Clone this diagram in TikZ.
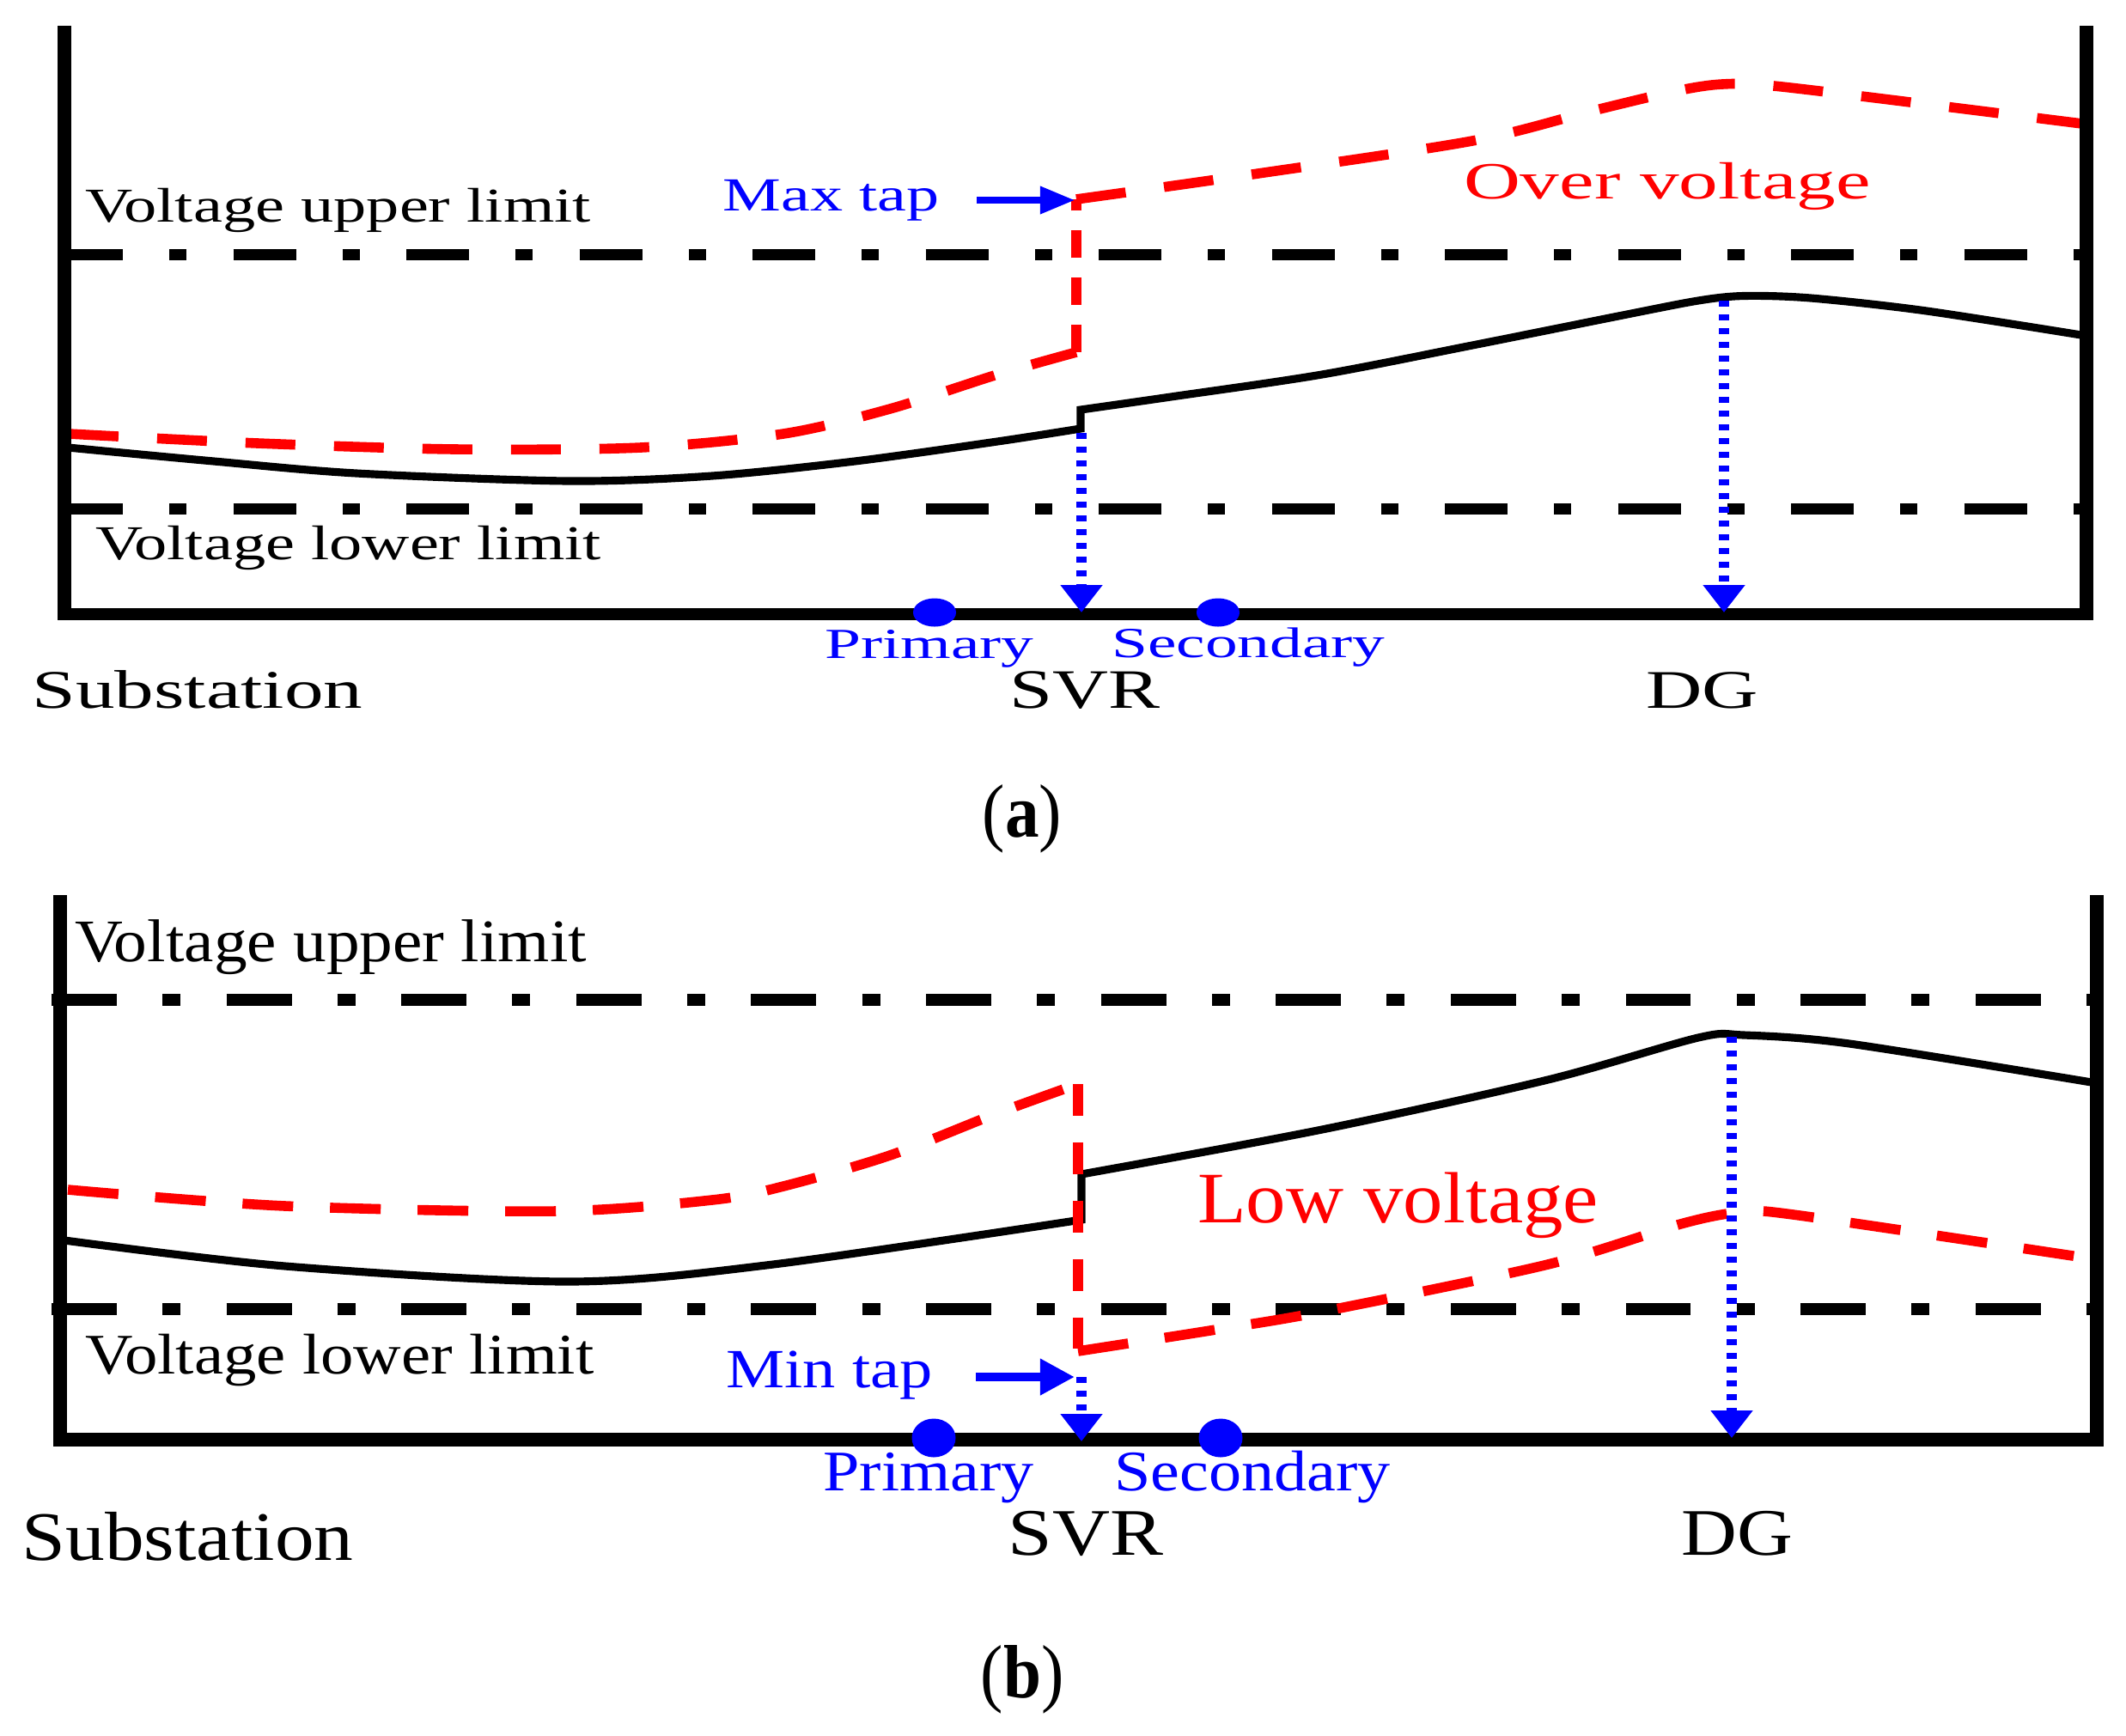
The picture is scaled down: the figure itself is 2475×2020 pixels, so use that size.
\documentclass[tikz,border=0pt]{standalone}
\usepackage{fontspec}
\setmainfont{Liberation Serif}
\usepackage{graphicx}
\usetikzlibrary{arrows.meta}
\newcommand{\lbl}[3]{\fontsize{#1}{#1}\selectfont\scalebox{#2}[1]{#3}}
\begin{document}
\begin{tikzpicture}[x=0.01cm,y=-0.01cm,
  axisv/.style={line width=4.8pt},
  axisb/.style={line width=3.8pt},
  limA/.style={line width=3.7pt, dash pattern=on 20.8pt off 15.4pt on 5.7pt off 15.4pt},
  limB/.style={line width=4.2pt, dash pattern=on 21.6pt off 15.1pt on 6pt off 15.2pt},
  vcurve/.style={line width=2.6pt, line join=miter},
  rcurveA/.style={red, line width=3.3pt, dash pattern=on 16.5pt off 12.8pt},
  rcurveB/.style={red, line width=3.3pt, dash pattern=on 16.8pt off 12.2pt},
  rvertA/.style={red, line width=3.3pt, dash pattern=on 9.1pt off 6.5pt},
  rvertB/.style={red, line width=3.3pt, dash pattern=on 10.5pt off 8.8pt},
  dotarrow/.style={blue, line width=3.2pt, dash pattern=on 1.9pt off 2.65pt,
    -{Triangle[length=9.1pt,width=13.4pt]}},
  taparrowA/.style={blue, line width=2pt, -{Triangle[length=11.4pt,width=8.8pt]}},
  taparrowB/.style={blue, line width=2.8pt, -{Triangle[length=11.4pt,width=11.4pt]}},
  busdot/.style={fill=blue},
  txt/.style={inner sep=0pt, anchor=base},
]
\fill[white] (0,0) rectangle (2475,2020);
\useasboundingbox (0,0) rectangle (2475,2020);

% ================= Panel (a) =================
\draw[limA] (70,296.5) -- (2429,296.5);
\draw[limA] (70,592) -- (2429,592);

% black voltage profile
\draw[vcurve] plot[smooth] coordinates {(79,521) (249,537) (415,551) (663,560) (829,554) (995,537) (1161,514) (1258,499)}
  -- (1258,477) -- plot[smooth] coordinates {(1258,477) (1363,462) (1539,436) (1714,402) (1889,367) (1977,350) (2030,344.5) (2108,347) (2240,361.6) (2429,391)};

% red dashed profile
\draw[rcurveA] plot[smooth] coordinates {(80,505) (300,516) (530,523) (746,521) (912,505) (1036,476) (1161,436) (1253,410)};
\draw[rvertA] (1253,410) -- (1253,232);
\draw[rcurveA] plot[smooth] coordinates {(1253,232) (1451,204) (1714,164) (1854,129) (1951,106) (2005,98) (2065,100) (2240,121) (2424,144)};

% axes
\draw[axisv] (75,30) -- (75,722);
\draw[axisv] (2429,30) -- (2429,722);
\draw[axisb] (68,715) -- (2437,715);

% blue arrows
\coordinate (svrAtop) at (1259,504);
\coordinate (svrAbot) at (1259,713);
\coordinate (dgAtop) at (2007,350);
\coordinate (dgAbot) at (2007,713);
\draw[dotarrow] (svrAtop) -- (svrAbot);
\draw[dotarrow] (dgAtop) -- (dgAbot);
\coordinate (maxS) at (1137,233);
\coordinate (maxE) at (1251,233);
\draw[taparrowA] (maxS) -- (maxE);

\fill[busdot] (1088,713) ellipse [x radius=25, y radius=16.5];
\fill[busdot] (1418,713) ellipse [x radius=25, y radius=16.5];

% texts (a)
\node[txt] (upA) at (393.5,258) {\lbl{16.1pt}{1.35}{Voltage upper limit}};
\node[txt] (lowA) at (405.5,651.5) {\lbl{16.1pt}{1.35}{Voltage lower limit}};
\node[txt, text=blue] (maxtap) at (967.5,245.7) {\lbl{15.7pt}{1.38}{Max tap}};
\node[txt, text=red] (over) at (1941,231) {\lbl{17.3pt}{1.5}{Over voltage}};
\node[txt, text=blue] (primA) at (1082,766) {\lbl{14.2pt}{1.51}{Primary}};
\node[txt, text=blue] (secA) at (1453.5,765.7) {\lbl{14.2pt}{1.51}{Secondary}};
\node[txt] (subA) at (230,824) {\lbl{18pt}{1.44}{Substation}};
\node[txt] (svrA) at (1263,824) {\lbl{18.4pt}{1.39}{SVR}};
\node[txt] (dgA) at (1981.5,824) {\lbl{18pt}{1.43}{DG}};
\node[txt] (capA) at (1190,974.5) {\lbl{25pt}{0.9}{(\textbf{a})}};

% ================= Panel (b) =================
\draw[limB] (60,1164) -- (2441,1164);
\draw[limB] (60,1524) -- (2441,1524);

\draw[vcurve] plot[smooth] coordinates {(75,1444) (332,1474) (663,1492) (900,1472) (1259,1420)}
  -- (1259,1367) -- plot[smooth] coordinates {(1259,1367) (1539,1315) (1802,1257) (1977,1208) (2030,1205) (2153,1215) (2441,1261)};

\draw[rcurveB] plot[smooth] coordinates {(79,1385) (332,1404) (647,1410) (829,1397) (912,1381) (1036,1345) (1161,1296) (1255,1262)};
\draw[rvertB] (1255,1262) -- (1255,1573);
\draw[rcurveB] plot[smooth] coordinates {(1255,1573) (1415,1548) (1539,1527) (1802,1472) (1960,1424) (2030,1411) (2095,1415) (2433,1465)};

\draw[axisv] (70,1042) -- (70,1683);
\draw[axisv] (2441,1042) -- (2441,1683);
\draw[line width=4.3pt] (62,1676) -- (2449,1676);

\coordinate (svrBtop) at (1259,1603);
\coordinate (svrBbot) at (1259,1678);
\coordinate (dgBtop) at (2016,1207);
\coordinate (dgBbot) at (2016,1674);
\draw[dotarrow] (svrBtop) -- (svrBbot);
\draw[dotarrow] (dgBtop) -- (dgBbot);
\coordinate (minS) at (1136,1603);
\coordinate (minE) at (1251,1603);
\draw[taparrowB] (minS) -- (minE);

\fill[busdot] (1087,1674) ellipse [x radius=25.5, y radius=22.5];
\fill[busdot] (1421,1674) ellipse [x radius=25.5, y radius=22.5];

\node[txt] (upB) at (385,1119) {\lbl{20pt}{1.1}{Voltage upper limit}};
\node[txt] (lowB) at (395.5,1599) {\lbl{19pt}{1.15}{Voltage lower limit}};
\node[txt, text=blue] (mintap) at (965.5,1615) {\lbl{18.3pt}{1.19}{Min tap}};
\node[txt, text=red] (low) at (1627.5,1423) {\lbl{24pt}{1.1}{Low voltage}};
\node[txt, text=blue] (primB) at (1081,1735) {\lbl{19pt}{1.14}{Primary}};
\node[txt, text=blue] (secB) at (1458,1735) {\lbl{19pt}{1.14}{Secondary}};
\node[txt] (subB) at (218.5,1816) {\lbl{23pt}{1.13}{Substation}};
\node[txt] (svrB) at (1264,1810) {\lbl{22pt}{1.2}{SVR}};
\node[txt] (dgB) at (2022.5,1810) {\lbl{22pt}{1.16}{DG}};
\node[txt] (capB) at (1190,1976.5) {\lbl{25pt}{0.9}{(\textbf{b})}};
\end{tikzpicture}
\end{document}
